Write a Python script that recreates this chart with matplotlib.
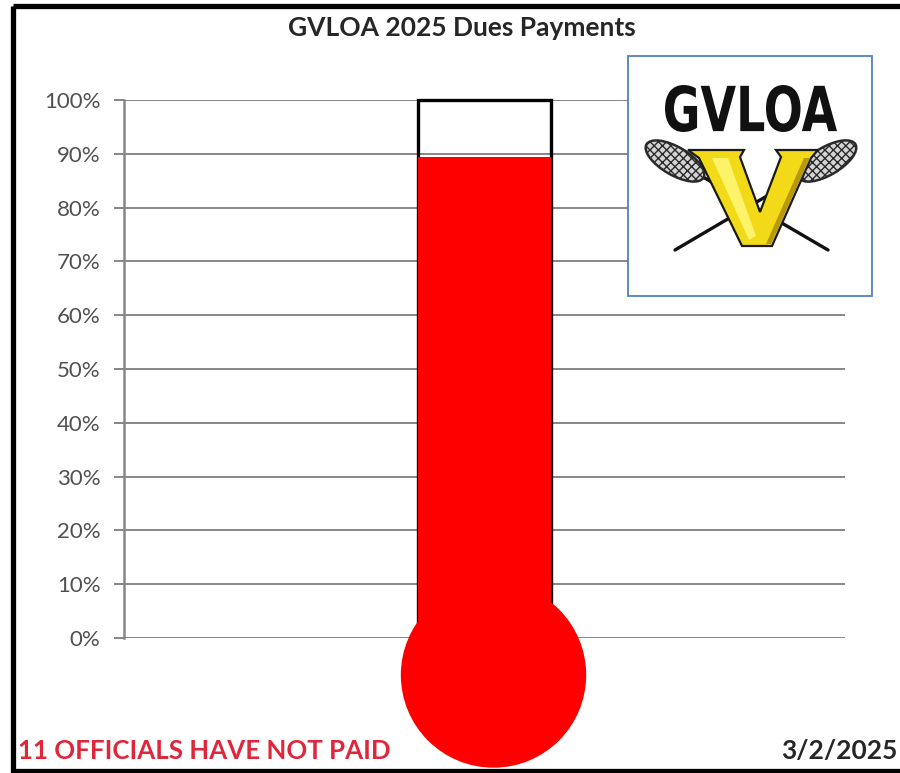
import numpy as np
import matplotlib.pyplot as plt
import matplotlib.ticker as mtick
from matplotlib.patches import Rectangle, Ellipse, Polygon, PathPatch
from matplotlib.textpath import TextPath
from matplotlib.font_manager import FontProperties
from matplotlib.transforms import Affine2D

# data
chart_title = "GVLOA 2025 Dues Payments"
officials_paid = 93
officials_unpaid = 11
as_of_date = "3/2/2025"
y_ticks = [0.0, 0.1, 0.2, 0.3, 0.4, 0.5, 0.6, 0.7, 0.8, 0.9, 1.0]

paid_share = officials_paid / (officials_paid + officials_unpaid)

W, H = 900, 773
fig = plt.figure(figsize=(W / 100, H / 100), dpi=100)
fig.patch.set_facecolor('white')

# main axes (pixel box of the plot area)
left_px, right_px, top_px, bottom_px = 124, 845, 100, 638
ax = fig.add_axes([left_px / W, 1 - bottom_px / H,
                   (right_px - left_px) / W, (bottom_px - top_px) / H])
ax.set_xlim(-1, 1)
ax.set_ylim(0, 1)
ax.set_yticks(y_ticks)
ax.yaxis.set_major_formatter(mtick.PercentFormatter(1.0, decimals=0))
ax.set_xticks([])
ax.grid(axis='y', color='#868686', lw=1.4)
ax.set_axisbelow(True)
for s in ['top', 'right', 'bottom']:
    ax.spines[s].set_visible(False)
ax.spines['left'].set_color('#868686')
ax.spines['left'].set_linewidth(1.8)
ax.tick_params(axis='y', length=7, width=1.4, color='#868686', pad=10,
               labelsize=16, labelcolor='#505050')
for lbl in ax.get_yticklabels():
    lbl.set_family('Lato')

# thermometer tube, fill and bulb
bar_w = 0.37
tube = Rectangle((-bar_w / 2, 0), bar_w, 1.0, fill=False, edgecolor='black',
                 lw=2.4, zorder=3, clip_on=False)
ax.add_patch(tube)
ax.bar(0, paid_share, width=bar_w, color='#ff0000', zorder=4)

ax_w_px = right_px - left_px
ax_h_px = bottom_px - top_px
bulb_r = 92  # px
rx = bulb_r / ax_w_px * 2
ry = bulb_r / ax_h_px
bulb = Ellipse((0.025, -37 / ax_h_px), 2 * rx, 2 * ry, color='#ff0000',
               zorder=4, clip_on=False)
ax.add_patch(bulb)

# overlay in pixel coordinates for frame and logo
ov = fig.add_axes([0, 0, 1, 1])
ov.set_xlim(0, W)
ov.set_ylim(H, 0)
ov.axis('off')
ov.set_zorder(5)

ov.add_patch(Rectangle((12.5, 5.5), 1000, 765.5, fill=False, edgecolor='black', lw=3.8))

# logo
ov.add_patch(Rectangle((628, 56), 244, 240, facecolor='white', edgecolor='#4f81bd',
                       lw=1.3, zorder=1))

# sticks
stick_ends = [((675, 250), (823, 163)), ((828, 250), (679, 163))]
for (x0, y0), (x1, y1) in stick_ends:
    ov.plot([x0, x1], [y0, y1], color='#111111', lw=2.4, solid_capstyle='round', zorder=2)
    ang = np.degrees(np.arctan2(y1 - y0, x1 - x0))
    ov.add_patch(Ellipse((x1 + 4 * np.sign(x1 - x0), y1 - 2), 66, 28, angle=ang,
                         facecolor='#d4d4d4', edgecolor='#2a2a2a', lw=1.8,
                         hatch='xxxx', zorder=2.5))

# V letter
v_pts = [(688, 150), (744, 150), (740, 157), (760, 212), (781, 157), (776, 150),
         (818, 150), (811, 158), (772, 246), (742, 246), (699, 158)]
ov.add_patch(Polygon(v_pts, closed=True, facecolor='#f2da18', edgecolor='#1a1a1a',
                     lw=1.6, zorder=3))
ov.add_patch(Polygon([(712, 158), (728, 158), (756, 236), (749, 240)], closed=True,
                     facecolor='#fff36a', edgecolor='none', zorder=3.2))
ov.add_patch(Polygon([(804, 158), (810, 158), (771, 244), (766, 244)], closed=True,
                     facecolor='#b8980c', edgecolor='none', zorder=3.2))

# GVLOA lettering fitted to its box
tp = TextPath((0, 0), "GVLOA", size=10,
              prop=FontProperties(family='DejaVu Sans', weight='bold'))
bb = tp.get_extents()
tx = Affine2D().translate(-bb.x0, -bb.y0).scale(172 / bb.width, -47 / bb.height).translate(665, 132)
ov.add_patch(PathPatch(tx.transform_path(tp), facecolor='#111111', edgecolor='none', zorder=3))

# texts
fig.text(462 / W, 1 - 28 / H, chart_title, ha='center', va='center',
         fontsize=19, fontweight='bold', color='#262626', family='Lato')
fig.text(18 / W, 1 - 751 / H, f"{officials_unpaid} OFFICIALS HAVE NOT PAID",
         ha='left', va='center', fontsize=18.6, fontweight='bold',
         color='#e0263a', family='Lato')
fig.text(897 / W, 1 - 751 / H, as_of_date, ha='right', va='center',
         fontsize=19, fontweight='bold', color='#262626', family='Lato')

fig.savefig('out.png', dpi=100)
